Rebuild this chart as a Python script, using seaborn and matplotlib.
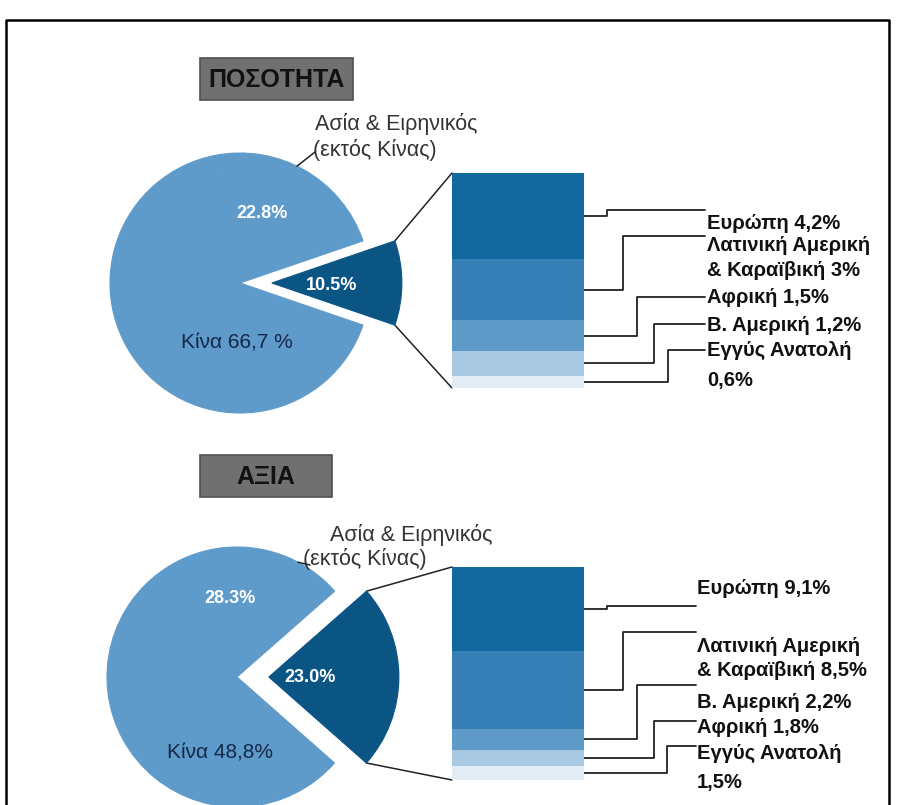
import numpy as np
import matplotlib
matplotlib.use("Agg")
import matplotlib.pyplot as plt
import seaborn as sns
from matplotlib.patches import Rectangle

# ---------------- data ----------------
qty_pie_names = ["Λοιπές περιοχές", "Ασία & Ειρηνικός (εκτός Κίνας)", "Κίνα"]
qty_pie_values = [10.5, 22.8, 66.7]
qty_bar_names = ["Ευρώπη", "Λατινική Αμερική\n& Καραϊβική", "Αφρική", "Β. Αμερική", "Εγγύς Ανατολή\n"]
qty_bar_values = [4.2, 3.0, 1.5, 1.2, 0.6]

val_pie_names = ["Λοιπές περιοχές", "Ασία & Ειρηνικός (εκτός Κίνας)", "Κίνα"]
val_pie_values = [23.0, 28.3, 48.8]
val_bar_names = ["Ευρώπη", "Λατινική Αμερική\n& Καραϊβική", "Β. Αμερική", "Αφρική", "Εγγύς Ανατολή\n"]
val_bar_values = [9.1, 8.5, 2.2, 1.8, 1.5]

titles = ["ΠΟΣΟΤΗΤΑ", "ΑΞΙΑ"]
asia_label = ["Ασία & Ειρηνικός", "(εκτός Κίνας)"]

# ---------------- style ----------------
sns.set_theme(style="white")
plt.rcParams['font.family'] = ['Liberation Sans', 'DejaVu Sans']

DARK = "#0b5585"
PIE_ASIA = "#5f9bca"
PIE_CHINA = "#5f9bca"
BAR_COLORS = ["#11699f", "#3680b6", "#5e9bc9", "#a9c9e2", "#e2ecf5"]
LINE = "#222222"

W, H = 899, 805
fig = plt.figure(figsize=(W / 100, H / 100), dpi=100)
ax = fig.add_axes([0, 0, 1, 1])


def set_main_limits():
    ax.set_xlim(0, W)
    ax.set_ylim(H, 0)


def fmt_c(v):
    return f"{v:g}".replace(".", ",")


def section(pie_vals, bar_names, bar_vals, title, cfg):
    cx, cy = cfg["center"]
    R = cfg["radius"]
    # title box
    bx0, by0, bx1, by1 = cfg["title_box"]
    ax.add_patch(Rectangle((bx0, by0), bx1 - bx0, by1 - by0, facecolor="#707070",
                           edgecolor="#505050", lw=1.2, zorder=3))
    ax.text((bx0 + bx1) / 2, (by0 + by1) / 2 + 1, title, ha="center", va="center",
            fontsize=18, fontweight="bold", color="#111111", zorder=4)

    wedges, _ = ax.pie(pie_vals, colors=[DARK, PIE_ASIA, PIE_CHINA],
                       explode=[0.245 * R, 0, 0], startangle=pie_vals[0] * 1.8,
                       counterclock=False, center=(cx, cy), radius=R, frame=True,
                       wedgeprops=dict(linewidth=0.8))
    for w in wedges:
        w.set_zorder(2)
        w.set_edgecolor(w.get_facecolor())
    set_main_limits()

    # in-pie labels
    ax.text(*cfg["asia_pct"], f"{pie_vals[1]:.1f}%", color="white", fontsize=13,
            fontweight="bold", ha="center", va="center", zorder=5)
    ax.text(*cfg["other_pct"], f"{pie_vals[0]:.1f}%", color="white", fontsize=13,
            fontweight="bold", ha="center", va="center", zorder=5)
    ax.text(*cfg["china_pos"], cfg["china_fmt"].format(fmt_c(pie_vals[2])), color="#15284a",
            fontsize=15, ha="center", va="center", zorder=5)

    # Asia annotation
    (x1, y1), (x2, y2) = cfg["asia_text"]
    ax.text(x1, y1, asia_label[0], fontsize=15.5, color="#333333", ha="left", va="center")
    ax.text(x2, y2, asia_label[1], fontsize=15.5, color="#333333", ha="left", va="center")
    a = np.deg2rad(-cfg["asia_leader_angle"])
    px, py = cx + R * np.cos(a), cy + R * np.sin(a)
    ax.plot([px, cfg["asia_leader_end"][0]], [py, cfg["asia_leader_end"][1]], color=LINE, lw=1.1, zorder=3)

    # stacked bar (own axes, data units)
    l, t, r_, b = cfg["bar_box"]
    bax = fig.add_axes([l / W, 1 - b / H, (r_ - l) / W, (b - t) / H])
    cum = np.cumsum(bar_vals)
    for c, col in zip(cum[::-1], BAR_COLORS[::-1]):
        sns.barplot(x=[0], y=[c], color=col, width=1.0, saturation=1, ax=bax,
                    edgecolor="none", linewidth=0)
    bax.set_xlim(-0.5, 0.5)
    bax.set_ylim(cum[-1], 0)
    bax.set_axis_off()

    # connection lines wedge -> bar
    w = wedges[0]
    wcx, wcy = w.center
    p_up = (wcx + w.r * np.cos(np.deg2rad(w.theta1)), wcy + w.r * np.sin(np.deg2rad(w.theta1)))
    p_dn = (wcx + w.r * np.cos(np.deg2rad(w.theta2)), wcy + w.r * np.sin(np.deg2rad(w.theta2)))
    ax.plot([p_up[0], l], [p_up[1], t], color=LINE, lw=1.1, zorder=1)
    ax.plot([p_dn[0], l], [p_dn[1], b], color=LINE, lw=1.1, zorder=1)

    # leader lines and labels
    mids = cum - np.asarray(bar_vals) / 2
    inv = ax.transData.inverted()
    for i, (name, v) in enumerate(zip(bar_names, bar_vals)):
        _, ay = inv.transform(bax.transData.transform((0.0, mids[i])))
        ex = cfg["elbow_x"][i]
        ty = cfg["top_y"][i]
        ax.plot([r_, ex, ex, cfg["end_x"]], [ay, ay, ty, ty], color=LINE, lw=1.3, zorder=1)
        lines = name.split("\n")
        lines[-1] = (lines[-1] + " " + fmt_c(v) + "%").strip()
        for ln, ly in zip(lines, cfg["label_y"][i]):
            ax.text(cfg["text_x"], ly, ln, fontsize=14.5, fontweight="bold", color="#111111",
                    ha="left", va="center")


set_main_limits()

section(qty_pie_values, qty_bar_names, qty_bar_values, titles[0], dict(
    center=(240, 283), radius=130, title_box=(200, 58, 353, 100),
    asia_pct=(262, 213), other_pct=(332, 285), china_pos=(237, 343), china_fmt="Κίνα {} %",
    asia_text=((315, 124), (313, 150)), asia_leader_angle=64, asia_leader_end=(315, 152),
    bar_box=(452, 173, 584, 388),
    elbow_x=[607, 623, 637, 654, 668], top_y=[210, 236, 297, 324, 350], end_x=705,
    text_x=707, label_y=[[223], [245, 270], [297], [325], [350, 380]],
))

section(val_pie_values, val_bar_names, val_bar_values, titles[1], dict(
    center=(237, 677), radius=130, title_box=(200, 455, 332, 497),
    asia_pct=(230, 598), other_pct=(310, 677), china_pos=(220, 753), china_fmt="Κίνα {}%",
    asia_text=((330, 535), (303, 559)), asia_leader_angle=62, asia_leader_end=(310, 565),
    bar_box=(452, 567, 584, 780),
    elbow_x=[607, 623, 637, 654, 667], top_y=[606, 632, 685, 721, 746], end_x=696,
    text_x=697, label_y=[[588], [646, 670], [702], [727], [753, 782]],
))

# outer frame (cut at the bottom like the reference)
ax.plot([6, 6, 889, 889], [H + 5, 20, 20, H + 5], color="black", lw=1.8, zorder=6)

set_main_limits()
ax.set_axis_off()

fig.savefig("out.png", dpi=100, facecolor="white")
